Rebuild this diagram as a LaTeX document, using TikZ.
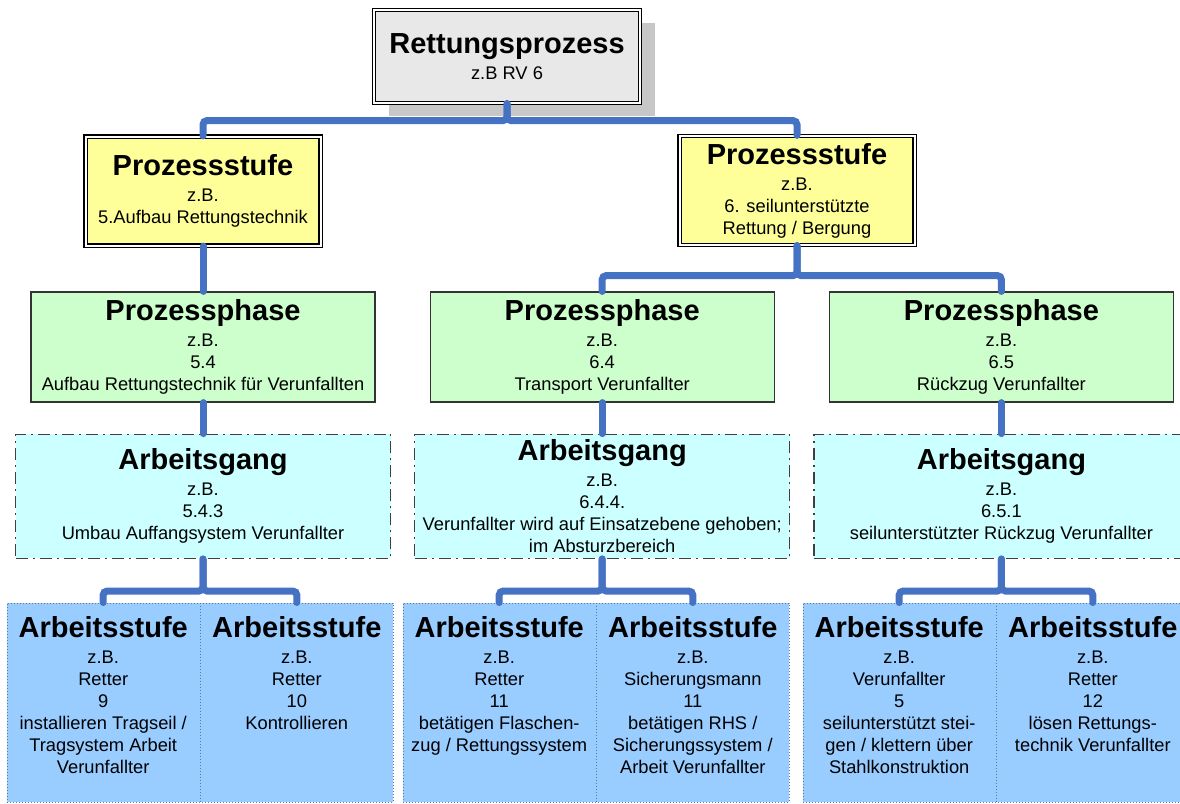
\documentclass[tikz,border=0pt]{standalone}
\usepackage{fontspec}
\setmainfont{Liberation Sans}
\usetikzlibrary{positioning, calc, shadows}
\definecolor{verbinder}{RGB}{70,114,196}
\definecolor{grauhell}{RGB}{232,232,232}
\definecolor{gelb}{RGB}{255,255,153}
\definecolor{gruen}{RGB}{204,255,204}
\definecolor{tuerkis}{RGB}{204,255,255}
\definecolor{hellblau}{RGB}{153,204,255}
\definecolor{punktrand}{RGB}{95,120,150}
\newcommand{\kopf}[1]{{\fontsize{29}{34}\selectfont\bfseries #1}\\[4pt]}

\begin{document}
\begin{tikzpicture}[
        x=1pt, y=-1pt,
        every node/.style={align=center, font=\fontsize{18.3}{22}\selectfont, inner sep=2pt},
        wurzel/.style={draw, double, double distance=2pt, line width=1.2pt, fill=grauhell,
                       minimum width=266pt, minimum height=93pt,
                       drop shadow={shadow xshift=15pt, shadow yshift=-13pt, fill=black!22, opacity=1}},
        stufe/.style={draw, double, double distance=2pt, line width=1.2pt, fill=gelb,
                      minimum width=235pt, minimum height=109pt},
        phase/.style={draw=black!80, line width=1.2pt, fill=gruen, minimum width=344pt, minimum height=110pt},
        gang/.style={draw=black!75, line width=1.4pt, dash pattern=on 12pt off 5pt on 2pt off 5pt,
                     fill=tuerkis, minimum width=375pt, minimum height=124pt},
        tafel/.style={draw=punktrand, line width=1pt, dash pattern=on 1pt off 2pt, fill=hellblau,
                      minimum width=386pt, minimum height=199pt},
        trenner/.style={draw=punktrand, line width=1pt, dash pattern=on 1pt off 2pt},
        schritt/.style={minimum width=193pt, inner ysep=14pt},
        verbindung/.style={verbinder, line width=7pt, line cap=round, rounded corners=4pt},
        node distance=32pt,
    ]
        \path[use as bounding box, clip] (0,0) rectangle (1180,803);

        \node[wurzel] (root) at (507,56.5) {\kopf{Rettungsprozess}z.B RV 6};
        \node[stufe] (ps5) at (203,191) {\kopf{Prozessstufe}z.B.\\5.Aufbau Rettungstechnik};
        \node[stufe] (ps6) at (797,190.5) {\kopf{Prozessstufe}z.B.\\6. seilunterstützte\\Rettung / Bergung};

        \node[phase] (phA) at (203,347) {\kopf{Prozessphase}z.B.\\5.4\\Aufbau Rettungstechnik für Verunfallten};
        \node[phase] (phB) [right=54pt of phA] {\kopf{Prozessphase}z.B.\\6.4\\Transport Verunfallter};
        \node[phase] (phC) [right=54pt of phB] {\kopf{Prozessphase}z.B.\\6.5\\Rückzug Verunfallter};

        \node[gang] (agA) [below=31pt of phA] {\kopf{Arbeitsgang}z.B.\\5.4.3\\Umbau Auffangsystem Verunfallter};
        \node[gang] (agB) [below=31pt of phB] {\kopf{Arbeitsgang}z.B.\\6.4.4.\\Verunfallter wird auf Einsatzebene gehoben;\\im Absturzbereich};
        \node[gang] (agC) [below=31pt of phC] {\kopf{Arbeitsgang}z.B.\\6.5.1\\seilunterstützter Rückzug Verunfallter};

        % Arbeitsstufen
        \node[tafel] (panelA) at (200,702.5) {};
        \node[tafel] (panelB) [right=9pt of panelA] {};
        \node[tafel] (panelC) [right=13pt of panelB] {};
        \draw[trenner] (panelA.north) -- (panelA.south);
        \draw[trenner] (panelB.north) -- (panelB.south);
        \draw[trenner] (panelC.north) -- (panelC.south);

        \node[schritt] (stA1) [below right=0pt of panelA.north west] {\kopf{Arbeitsstufe}z.B.\\Retter\\9\\installieren Tragseil /\\Tragsystem Arbeit\\Verunfallter};
        \node[schritt] (stA2) [below left=0pt of panelA.north east] {\kopf{Arbeitsstufe}z.B.\\Retter\\10\\Kontrollieren};
        \node[schritt] (stB1) [below right=0pt of panelB.north west] {\kopf{Arbeitsstufe}z.B.\\Retter\\11\\betätigen Flaschen-\\zug / Rettungssystem};
        \node[schritt] (stB2) [below left=0pt of panelB.north east] {\kopf{Arbeitsstufe}z.B.\\Sicherungsmann\\11\\betätigen RHS /\\Sicherungssystem /\\Arbeit Verunfallter};
        \node[schritt] (stC1) [below right=0pt of panelC.north west] {\kopf{Arbeitsstufe}z.B.\\Verunfallter\\5\\seilunterstützt stei-\\gen / klettern über\\Stahlkonstruktion};
        \node[schritt] (stC2) [below left=0pt of panelC.north east] {\kopf{Arbeitsstufe}z.B.\\Retter\\12\\lösen Rettungs-\\technik Verunfallter};

        % Verbindungen
        \draw[verbindung] (root.south) -- ++(0,17) -| (ps5.north);
        \draw[verbindung] (root.south) -- ++(0,17) -| (ps6.north);
        \draw[verbindung] (ps5) -- (phA);
        \draw[verbindung] (ps6.south) -- ++(0,30) -| (phB.north);
        \draw[verbindung] (ps6.south) -- ++(0,30) -| (phC.north);
        \draw[verbindung] (phA) -- (agA);
        \draw[verbindung] (phB) -- (agB);
        \draw[verbindung] (phC) -- (agC);
        \foreach \g/\a/\b in {agA/stA1/stA2, agB/stB1/stB2, agC/stC1/stC2} {
            \draw[verbindung] (\g.south) -- ++(0,32) -| (\a.north);
            \draw[verbindung] (\g.south) -- ++(0,32) -| (\b.north);
        }
    \end{tikzpicture}
\end{document}
